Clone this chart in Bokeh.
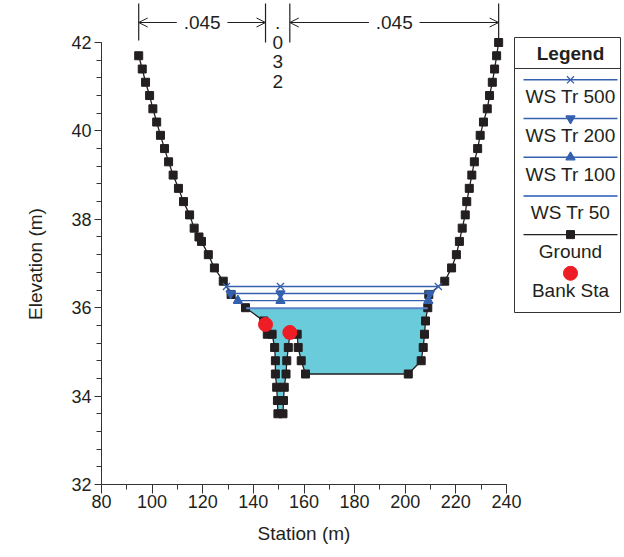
import numpy as np
from bokeh.plotting import figure
from bokeh.models import Range1d, FixedTicker, Arrow, OpenHead, Title
from bokeh.embed import file_html
from bokeh.resources import INLINE
from bokeh.core.properties import value

# ---------------- data ----------------
ground_sta = [94.7, 96.1, 97.4, 99.0, 100.3, 101.8, 103.3, 104.9, 106.5, 108.3,
              110.4, 112.4, 114.8, 116.6, 118.5, 119.5, 122.2, 124.6, 128.1, 131.2,
              136.9, 144.1, 145.5, 147.4, 148.4, 148.7, 148.7, 149.2, 149.5, 149.7,
              151.7, 151.9, 152.2, 152.9, 153.2, 153.8, 154.4, 157.3, 157.7, 158.9,
              160.6, 201.2, 206.3, 207.1, 207.6, 208.0, 208.9, 209.3, 215.6, 218.3,
              220.2, 221.4, 222.5, 223.7, 224.3, 225.3, 226.3, 227.3, 228.6, 229.6,
              230.9, 232.4, 233.3, 234.4, 235.3, 236.1, 236.9]
ground_elev = [41.7, 41.4, 41.1, 40.8, 40.5, 40.2, 39.9, 39.6, 39.3, 39.0,
               38.7, 38.4, 38.1, 37.8, 37.6, 37.5, 37.2, 36.9, 36.6, 36.3,
               36.0, 35.7, 35.4, 35.4, 35.1, 34.8, 34.5, 34.2, 33.9, 33.6,
               33.6, 33.9, 34.2, 34.5, 34.8, 35.1, 35.4, 35.4, 35.1, 34.8,
               34.5, 34.5, 34.8, 35.1, 35.4, 35.7, 36.0, 36.3, 36.6, 36.9,
               37.2, 37.5, 37.8, 38.1, 38.4, 38.7, 39.0, 39.3, 39.6, 39.9,
               40.2, 40.5, 40.8, 41.1, 41.4, 41.7, 42.0]
bank_sta = [144.8, 154.4]
bank_elev = [35.62, 35.44]
ws_names = ["WS Tr 500", "WS Tr 200", "WS Tr 100", "WS Tr 50"]
ws_elev = [36.48, 36.32, 36.16, 35.99]
ws_markers = ["x", "inverted_triangle", "triangle", None]
n_values = [".045", ".032", ".045"]
x_ticks = [80, 100, 120, 140, 160, 180, 200, 220, 240]
y_ticks = [32, 34, 36, 38, 40, 42]
x_title = "Station (m)"
y_title = "Elevation (m)"

# ---------------- geometry ----------------
FONT = "Liberation Sans"
TXT = "#231f20"
BLUE = "#3560ad"
BLUE_LIGHT = "#5b82c9"
CYAN = "#6accdb"

W, H = 624, 557
LEFT, BOTTOM = 101, 73
frame_w, frame_h = W - LEFT, H - BOTTOM
px_per_x = 405 / 160.0
px_per_y = 44.2
x0 = 80.0
x1 = x0 + frame_w / px_per_x
y_top = 42 + 42 / px_per_y
y1 = y_top - frame_h / px_per_y

def xp(px):   # page pixel -> data x
    return x0 + (px - 101) / px_per_x

def yp(py):   # page pixel -> data y
    return 42 - (py - 42) / px_per_y

s = np.array(ground_sta)
e = np.array(ground_elev)

def crossings(level):
    below = e < level
    i = int(np.argmax(below))
    j = len(e) - 1 - int(np.argmax(below[::-1]))
    xl = s[i - 1] + (e[i - 1] - level) / (e[i - 1] - e[i]) * (s[i] - s[i - 1])
    xr = s[j] + (level - e[j]) / (e[j + 1] - e[j]) * (s[j + 1] - s[j])
    return xl, xr, i, j

thalweg = float(s[e == e.min()].mean())

p = figure(width=W, height=H, x_range=Range1d(x0, x1), y_range=Range1d(y1, y_top),
           output_backend="svg", toolbar_location=None,
           min_border_left=LEFT, min_border_right=0, min_border_top=0,
           min_border_bottom=BOTTOM, title_location=None)
p.outline_line_color = None
p.xgrid.visible = False
p.ygrid.visible = False
p.background_fill_color = "white"
p.border_fill_color = "white"

# axes
p.xaxis.bounds = (x_ticks[0], x_ticks[-1])
p.yaxis.bounds = (y_ticks[0], y_ticks[-1])
p.xaxis.ticker = FixedTicker(ticks=x_ticks, minor_ticks=list(range(80, 241, 10)))
p.yaxis.ticker = FixedTicker(ticks=y_ticks, minor_ticks=[round(32 + 0.4 * k, 2) for k in range(26)])
for ax in (p.xaxis[0], p.yaxis[0]):
    ax.axis_line_color = "#333333"
    ax.major_tick_line_color = "#333333"
    ax.minor_tick_line_color = "#333333"
    ax.major_tick_in = 0
    ax.minor_tick_in = 0
    ax.minor_tick_out = 5
    ax.major_label_text_font = FONT
    ax.major_label_text_font_size = "18px"
    ax.major_label_text_color = TXT
p.xaxis.major_tick_out = 9
p.yaxis.major_tick_out = 7
p.xaxis.major_label_standoff = 1
p.yaxis.major_label_standoff = 3

# axis titles, centred on the drawn axis extent (not on the wider frame)
x_title_w, y_title_w = 93, 113
x_off = ((x_ticks[0] + x_ticks[-1]) / 2 - x0) * px_per_x - x_title_w / 2
y_off = ((y_ticks[0] + y_ticks[-1]) / 2 - y1) * px_per_y - y_title_w / 2
p.add_layout(Title(text=x_title, align="left", vertical_align="bottom", offset=x_off, standoff=21,
                   text_font=FONT, text_font_size="19px", text_font_style="normal",
                   text_color=TXT), "below")
p.add_layout(Title(text=y_title, align="left", vertical_align="top", offset=y_off, standoff=42,
                   text_font=FONT, text_font_size="19px", text_font_style="normal",
                   text_color=TXT), "left")

# water fill below lowest water surface
wl = ws_elev[-1]
xl, xr, i, j = crossings(wl)
poly_x = [xl] + list(s[i:j + 1]) + [xr]
poly_y = [wl] + list(e[i:j + 1]) + [wl]
p.patch(poly_x, poly_y, fill_color=CYAN, line_color=None)

# ground
p.line(ground_sta, ground_elev, line_color=TXT, line_width=1.3)
p.scatter(ground_sta, ground_elev, marker="square", size=8, fill_color=TXT, line_color=TXT)

# water surfaces
for name, lev, mk in zip(ws_names, ws_elev, ws_markers):
    a, b, _, _ = crossings(lev)
    if mk is None:
        p.line([a, b], [lev, lev], line_color=BLUE_LIGHT, line_width=2)
    else:
        p.line([a, b], [lev, lev], line_color=BLUE, line_width=1.4)
        mx = [a, thalweg, b]
        p.scatter(mx, [lev] * 3, marker=mk, size=10 if mk == "x" else 9,
                  fill_color=BLUE, line_color=BLUE, line_width=1.3)

# bank stations
p.scatter(bank_sta, bank_elev, marker="circle", size=14, fill_color="#ee1c25", line_color="#ee1c25")

# n-value annotations
stops = [ground_sta[0], bank_sta[0], bank_sta[1], ground_sta[-1]]
bot = [yp(40), yp(42), yp(42), yp(40)]
p.segment(stops, bot, stops, [yp(3)] * 4, line_color=TXT, line_width=1.2)
y_arrow = yp(22)
half = 10.0
for k, (a, b) in enumerate(zip(stops[:-1], stops[1:])):
    mid = (a + b) / 2
    if k == 1:
        chars = list(n_values[k])
        p.text([mid] * len(chars), [y_arrow - 0.445 * c for c in range(len(chars))], text=chars,
               text_font=value(FONT), text_font_size="19px", text_color=TXT,
               text_align="center", text_baseline="middle")
    else:
        p.text([mid], [y_arrow], text=[n_values[k]], text_font=value(FONT),
               text_font_size="19px", text_color=TXT, text_align="center", text_baseline="middle")
        p.add_layout(Arrow(end=OpenHead(size=9, line_color=TXT, line_width=1), x_start=mid - half,
                           y_start=y_arrow, x_end=a, y_end=y_arrow, line_color=TXT, line_width=1))
        p.add_layout(Arrow(end=OpenHead(size=9, line_color=TXT, line_width=1), x_start=mid + half,
                           y_start=y_arrow, x_end=b, y_end=y_arrow, line_color=TXT, line_width=1))

# legend (drawn in the free area right of the x axis)
lx0, lx1, lc = xp(514), xp(620), xp(570)
sx0, sx1 = xp(523), xp(617)
p.quad(left=[lx0], right=[lx1], top=[yp(37)], bottom=[yp(312)], fill_color="white",
       line_color="#333333", line_width=1)
p.segment([lx0], [yp(68)], [lx1], [yp(68)], line_color="#333333", line_width=1)
p.text([lc], [yp(53)], text=["Legend"], text_font=value(FONT), text_font_size="19px",
       text_font_style="bold", text_color=TXT, text_align="center", text_baseline="middle")
leg_labels = ws_names + ["Ground", "Bank Sta"]
for r, lab in enumerate(leg_labels):
    ly = yp(79.3 + r * 38.7)
    ty = yp(79.3 + r * 38.7 + 17)
    if r < 4:
        mk = ws_markers[r]
        if mk is None:
            p.segment([sx0], [ly], [sx1], [ly], line_color=BLUE_LIGHT, line_width=2)
        else:
            p.segment([sx0], [ly], [sx1], [ly], line_color=BLUE, line_width=1.4)
            p.scatter([lc], [ly], marker=mk, size=10 if mk == "x" else 9,
                      fill_color=BLUE, line_color=BLUE, line_width=1.3)
    elif lab == "Ground":
        p.segment([sx0], [ly], [sx1], [ly], line_color=TXT, line_width=1.3)
        p.scatter([lc], [ly], marker="square", size=8, fill_color=TXT, line_color=TXT)
    else:
        p.scatter([lc], [ly], marker="circle", size=14, fill_color="#ee1c25", line_color="#ee1c25")
    p.text([lc], [ty], text=[lab], text_font=value(FONT), text_font_size="19px",
           text_color=TXT, text_align="center", text_baseline="middle")

open("out.html", "w").write(file_html(p, INLINE))
